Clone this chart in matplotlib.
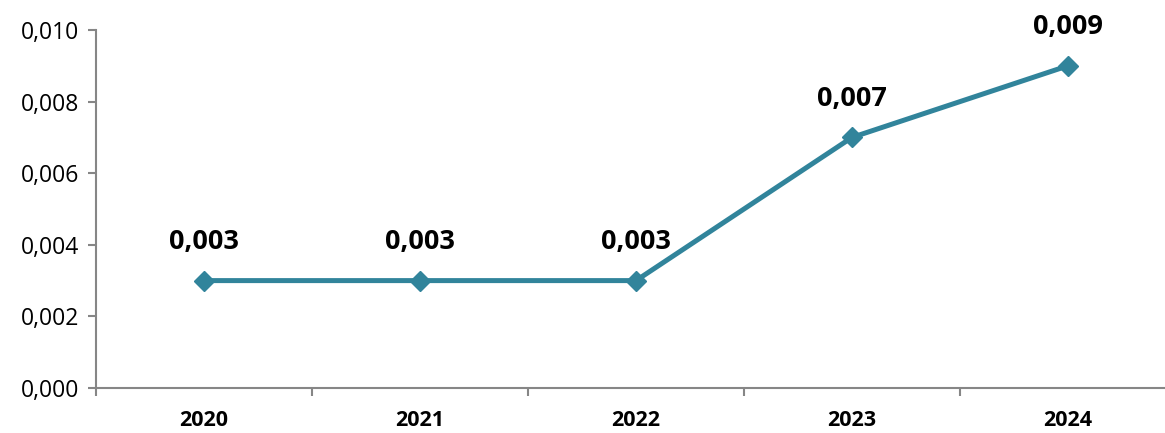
import numpy as np
import matplotlib
matplotlib.use("Agg")
import matplotlib.pyplot as plt

# data
years = ["2020", "2021", "2022", "2023", "2024"]
values = [0.003, 0.003, 0.003, 0.007, 0.009]
labels = ["0,003", "0,003", "0,003", "0,007", "0,009"]
yticks = [0.000, 0.002, 0.004, 0.006, 0.008, 0.010]

plt.rcParams['font.family'] = ['Open Sans', 'DejaVu Sans']
line_color = "#31849B"
axis_color = "#868686"

fig = plt.figure(figsize=(11.65, 4.33), dpi=100)
ax = fig.add_axes([96 / 1165, 45 / 433, 1080 / 1165, 358 / 433])

x = np.arange(len(years))
ax.plot(x, values, color=line_color, linewidth=3.6, marker="D", markersize=10.5,
        markerfacecolor=line_color, markeredgecolor=line_color, clip_on=False)

for xi, v, lab in zip(x, values, labels):
    ax.annotate(lab, (xi, v), xytext=(0, 28), textcoords="offset points",
                ha="center", va="center", fontsize=19.5, fontweight="bold")

ax.set_xlim(-0.5, len(years) - 0.5)
ax.set_ylim(0, 0.010)

# y axis
ax.set_yticks(yticks)
ax.set_yticklabels([f"{t:.3f}".replace(".", ",") for t in yticks], fontsize=16.5)
ax.tick_params(axis="y", direction="out", length=6, width=1.5, color=axis_color, pad=6)

# x axis: labels at centers, ticks at category boundaries
ax.set_xticks(x)
ax.set_xticklabels(years, fontsize=15.5, fontweight="bold")
ax.set_xticks(np.arange(-0.5, len(years), 1.0), minor=True)
ax.tick_params(axis="x", which="major", length=0, pad=16)
ax.tick_params(axis="x", which="minor", direction="out", length=6, width=1.5, color=axis_color)

for side in ["top", "right"]:
    ax.spines[side].set_visible(False)
for side in ["left", "bottom"]:
    ax.spines[side].set_color(axis_color)
    ax.spines[side].set_linewidth(1.5)

fig.savefig("out.png", dpi=100)
